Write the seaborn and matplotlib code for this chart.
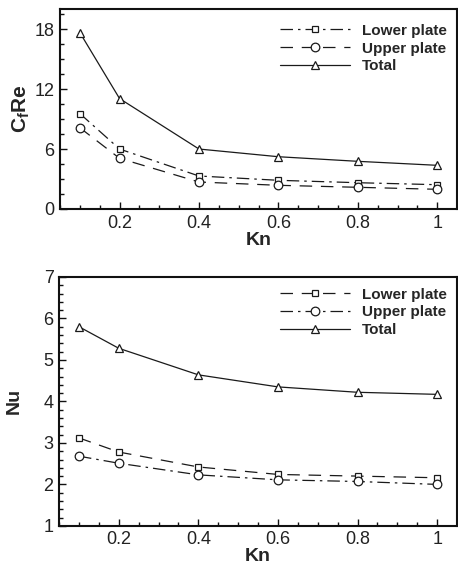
import matplotlib
matplotlib.use("Agg")
import matplotlib.pyplot as plt
import seaborn as sns
from matplotlib.ticker import MultipleLocator, FuncFormatter

sns.set_style("ticks")
plt.rcParams['font.family'] = ['Liberation Sans', 'DejaVu Sans']
plt.rcParams['mathtext.fontset'] = 'custom'
plt.rcParams['mathtext.rm'] = 'Liberation Sans'
plt.rcParams['mathtext.bf'] = 'Liberation Sans:bold'
plt.rcParams['mathtext.it'] = 'Liberation Sans:italic'

kn = [0.1, 0.2, 0.4, 0.6, 0.8, 1.0]

cf_lower = [9.55, 6.0, 3.3, 2.87, 2.63, 2.43]
cf_upper = [8.13, 5.07, 2.7, 2.37, 2.17, 1.97]
cf_total = [17.65, 11.05, 6.0, 5.23, 4.77, 4.37]

nu_lower = [3.12, 2.78, 2.42, 2.24, 2.20, 2.16]
nu_upper = [2.68, 2.51, 2.23, 2.11, 2.07, 2.00]
nu_total = [5.80, 5.28, 4.64, 4.35, 4.22, 4.17]

labels = ["Lower plate", "Upper plate", "Total"]

fig = plt.figure(figsize=(4.58, 5.71), dpi=100)
ax1 = fig.add_axes([0.131, 0.634, 0.867, 0.350])
ax2 = fig.add_axes([0.129, 0.079, 0.869, 0.436])

dashdot = (0, (10, 4, 2, 4))
dashed = (0, (10, 7))
solid = '-'
lc = '#1a1a1a'
msizes = {'s': 4.8, 'o': 6.2, '^': 5.5}

def draw(ax, series, styles, markers, anchor):
    for vals, lab, ls, mk in zip(series, labels, styles, markers):
        sns.lineplot(x=kn, y=vals, ax=ax, color=lc, linewidth=0.9, linestyle=ls,
                     marker=mk, markersize=msizes[mk],
                     markerfacecolor='white', markeredgecolor=lc,
                     markeredgewidth=0.9, label=lab)
    ax.legend(loc='upper right', frameon=False, handlelength=4.6,
              handletextpad=0.75, labelspacing=0.25, numpoints=1,
              prop={'weight': 'bold', 'size': 11},
              bbox_to_anchor=anchor, borderaxespad=0.3)
    ax.set_xlim(0.05, 1.05)
    ax.xaxis.set_major_locator(MultipleLocator(0.2))
    ax.xaxis.set_minor_locator(MultipleLocator(0.05))
    ax.xaxis.set_major_formatter(FuncFormatter(lambda v, p: ('%g' % round(v, 2))))
    ax.tick_params(which='both', direction='in', top=False, right=False,
                   labelsize=13, width=1.0, colors='#111', labelcolor='#222')
    ax.tick_params(which='major', length=5, pad=4)
    ax.tick_params(which='minor', length=3)
    for sp in ax.spines.values():
        sp.set_linewidth(1.5)
        sp.set_color('#111')
    ax.set_xlabel('Kn', fontsize=14, fontweight='bold', labelpad=0)

draw(ax1, [cf_lower, cf_upper, cf_total], [dashdot, dashed, solid], ['s', 'o', '^'], (1.0, 0.98))
ax1.set_ylim(0, 20)
ax1.yaxis.set_major_locator(MultipleLocator(6))
ax1.yaxis.set_minor_locator(MultipleLocator(1.5))
ax1.set_ylabel(r'$\mathbf{C_fRe}$', fontsize=15, labelpad=2)

draw(ax2, [nu_lower, nu_upper, nu_total], [dashed, dashdot, solid], ['s', 'o', '^'], (1.0, 1.0))
ax2.set_ylim(1, 7)
ax2.yaxis.set_major_locator(MultipleLocator(1))
ax2.yaxis.set_minor_locator(MultipleLocator(0.2))
ax2.set_ylabel('Nu', fontsize=14, fontweight='bold', labelpad=15)

fig.savefig('out.png', dpi=100)
